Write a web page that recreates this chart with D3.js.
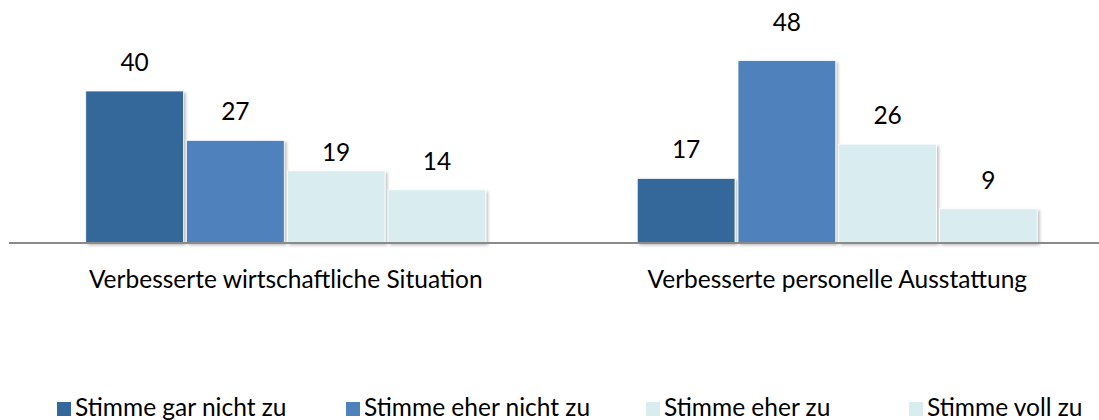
<!DOCTYPE html>
<html>
<head>
<meta charset="utf-8">
<script src="https://cdn.jsdelivr.net/npm/d3@7"></script>
<style>
  body { margin: 0; background: #fff; }
  text { font-family: Lato, "Open Sans", sans-serif; fill: #000; }
</style>
</head>
<body>
<div id="plot"></div>
<script>

var categories = ["Verbesserte wirtschaftliche Situation", "Verbesserte personelle Ausstattung"];
var series = ["Stimme gar nicht zu", "Stimme eher nicht zu", "Stimme eher zu", "Stimme voll zu"];
var garNicht = [40, 17];
var eherNicht = [27, 48];
var eherZu = [19, 26];
var vollZu = [14, 9];
var colors = ["#34679a", "#4f81bd", "#d9edf0", "#d9edf0"];

var values = [garNicht, eherNicht, eherZu, vollZu];

// a few labels sit off their usual place in the original
var labelShift = [[0, 0], [0, -10], [10, 0], [0, 0]];

var width = 1099, height = 420;
var baseY = 243;
var fontSize = "24.5px";

var svg = d3.select("#plot")
	.append("svg")
	.attr("width", width)
	.attr("height", height);

var defs = svg.append("defs");
var shadow = defs.append("filter")
	.attr("id", "shadow")
	.attr("x", "-10%").attr("y", "-10%")
	.attr("width", "130%").attr("height", "130%");
shadow.append("feDropShadow")
	.attr("dx", 2).attr("dy", 2)
	.attr("stdDeviation", 1.5)
	.attr("flood-color", "#000")
	.attr("flood-opacity", 0.25);

var x0 = d3.scaleBand()
	.domain(categories)
	.range([10, 1113]);

var x1 = d3.scaleBand()
	.domain(series)
	.range([75.75, 475.75])
	.paddingInner(0.03);

var y = d3.scaleLinear()
	.domain([0, 50])
	.range([baseY, baseY - 190]);

var groups = svg.selectAll("g.cat")
	.data(categories)
	.enter().append("g")
	.attr("class", "cat")
	.attr("transform", function(d){ return "translate(" + x0(d) + ",0)"; });

groups.each(function(cat, ci){
	var g = d3.select(this);
	series.forEach(function(s, si){
		var v = values[si][ci];
		g.append("rect")
			.attr("x", x1(s))
			.attr("y", y(v))
			.attr("width", x1.bandwidth())
			.attr("height", y(0) - y(v))
			.attr("fill", colors[si])
			.attr("stroke", "#fff")
			.attr("stroke-width", 0.75)
			.attr("filter", "url(#shadow)");

		g.append("text")
			.text(v)
			.attr("x", x1(s) + x1.bandwidth() / 2)
			.attr("y", y(v) - 20 + labelShift[si][ci])
			.attr("text-anchor", "middle")
			.style("font-size", fontSize);
	});
});

// category axis
var axis = svg.append("g")
	.attr("transform", "translate(0," + baseY + ")")
	.call(d3.axisBottom(x0).tickSize(0).tickPadding(0));

axis.select(".domain")
	.attr("d", "M9,0H1099")
	.attr("stroke", "#8a8a8a")
	.attr("stroke-width", 2);

axis.selectAll(".tick text")
	.attr("y", 45)
	.attr("dy", 0)
	.style("font-size", fontSize)
	.style("font-family", "Lato, 'Open Sans', sans-serif")
	.attr("fill", "#000");

// legend
var legendX = [57, 346, 646, 909];
var legend = svg.selectAll("g.leg")
	.data(series)
	.enter().append("g")
	.attr("class", "leg")
	.attr("transform", function(d, i){ return "translate(" + legendX[i] + ",402)"; });

legend.append("rect")
	.attr("width", 14)
	.attr("height", 14)
	.attr("fill", function(d, i){ return colors[i]; });

legend.append("text")
	.text(function(d){ return d; })
	.attr("x", 18)
	.attr("y", 14)
	.style("font-size", fontSize);

</script>
</body>
</html>
